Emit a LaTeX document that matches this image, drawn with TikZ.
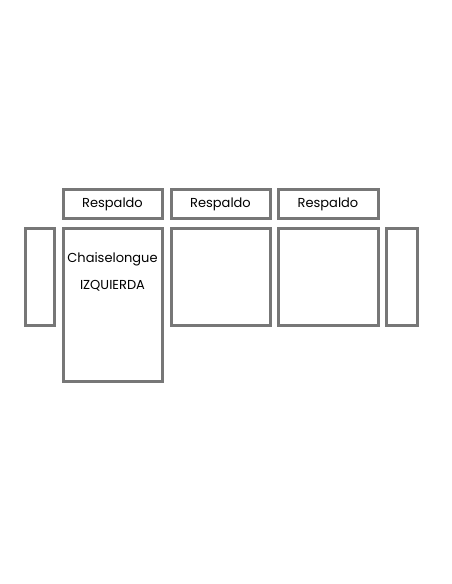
\documentclass[tikz,border=0pt]{standalone}
\usepackage{fontspec}
\setmainfont{Poppins}
\definecolor{frame}{HTML}{777777}
\begin{document}
\begin{tikzpicture}[x=1pt,y=-1pt,
  piece/.style={draw=frame,line width=3pt,fill=white},
  lbl/.style={font=\fontsize{13}{15}\selectfont,text=black}]
\useasboundingbox (0,0) rectangle (452,584);
\draw[piece] (25,228) rectangle (54,325);
\draw[piece] (63,228) rectangle (162,381);
\draw[piece] (171,228) rectangle (270,325);
\draw[piece] (278,228) rectangle (378,325);
\draw[piece] (386,228) rectangle (417,325);
\draw[piece] (63,189) rectangle (162,218);
\draw[piece] (171,189) rectangle (270,218);
\draw[piece] (278,189) rectangle (378,218);
\node[lbl] (r1) at (112.5,204.5) {Respaldo};
\node[lbl] (r2) at (220.5,204.5) {Respaldo};
\node[lbl] (r3) at (328,204.5) {Respaldo};
\node[lbl] (c1) at (112.5,259.5) {Chaiselongue};
\node[lbl] (c2) at (112.5,285.5) {IZQUIERDA};
\end{tikzpicture}
\end{document}
